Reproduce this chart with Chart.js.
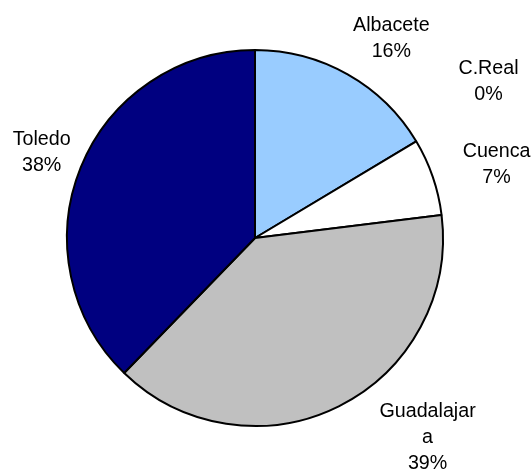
<!DOCTYPE html>
<html>
<head>
<meta charset="utf-8">
<script src="https://cdn.jsdelivr.net/npm/chart.js@4/dist/chart.umd.min.js"></script>
<style>
  html, body { margin: 0; padding: 0; background: #fff; }
  #wrap { width: 531px; height: 469px; }
</style>
</head>
<body>
<div id="wrap"><canvas id="pie"></canvas></div>
<script>
// provinces, share of total (%)
const provinces = ["Albacete", "C.Real", "Cuenca", "Guadalajara", "Toledo"];
const shares = [16.4, 0, 6.65, 39.2, 37.75];
const sliceColors = ["#99CCFF", "#FFFFFF", "#FFFFFF", "#C0C0C0", "#000080"];

// label layout: offset from the point 40px outside the slice's mid angle
const labelNudge = [[24, -1], [38, -39], [26, 1], [71, -5], [-2, 0]];

const FONT = "19.7px 'Liberation Sans', Arial, sans-serif";
const LINE_H = 26;

function wrapText(ctx, text, maxW){
  // break long names char by char, like the original labels
  const lines = [];
  let cur = "";
  for(const ch of text){
    if(cur && ctx.measureText(cur + ch).width > maxW){
      lines.push(cur);
      cur = ch;
    } else cur += ch;
  }
  if(cur) lines.push(cur);
  return lines;
}

const outsideLabels = {
  id: "outsideLabels",
  afterDatasetsDraw(chart){
    const ctx = chart.ctx;
    const arcs = chart.getDatasetMeta(0).data;
    const total = shares.reduce((s, v) => s + v, 0);
    ctx.save();
    ctx.font = FONT;
    ctx.fillStyle = "#000";
    ctx.textAlign = "center";
    ctx.textBaseline = "middle";
    arcs.forEach((arc, i) => {
      const p = arc.getProps(["x", "y", "startAngle", "endAngle", "outerRadius"], true);
      const mid = (p.startAngle + p.endAngle) / 2;
      const r = p.outerRadius + 40;
      const cx = p.x + Math.cos(mid) * r + labelNudge[i][0];
      const cy = p.y + Math.sin(mid) * r + labelNudge[i][1];
      const pct = Math.round(shares[i] / total * 100) + "%";
      const lines = wrapText(ctx, provinces[i], 100).concat([pct]);
      const top = cy - (lines.length - 1) * LINE_H / 2;
      lines.forEach((ln, k) => ctx.fillText(ln, cx, top + k * LINE_H));
    });
    ctx.restore();
  }
};

new Chart(document.getElementById("pie"), {
  type: "pie",
  data: {
    labels: provinces,
    datasets: [{
      data: shares,
      backgroundColor: sliceColors,
      borderColor: "#000",
      borderWidth: 2
    }]
  },
  options: {
    responsive: true,
    maintainAspectRatio: false,
    animation: false,
    radius: 188,
    layout: { padding: { left: 0, right: 21, top: 7, bottom: 0 } },
    plugins: {
      legend: { display: false },
      tooltip: { enabled: false }
    }
  },
  plugins: [outsideLabels]
});
</script>
</body>
</html>
